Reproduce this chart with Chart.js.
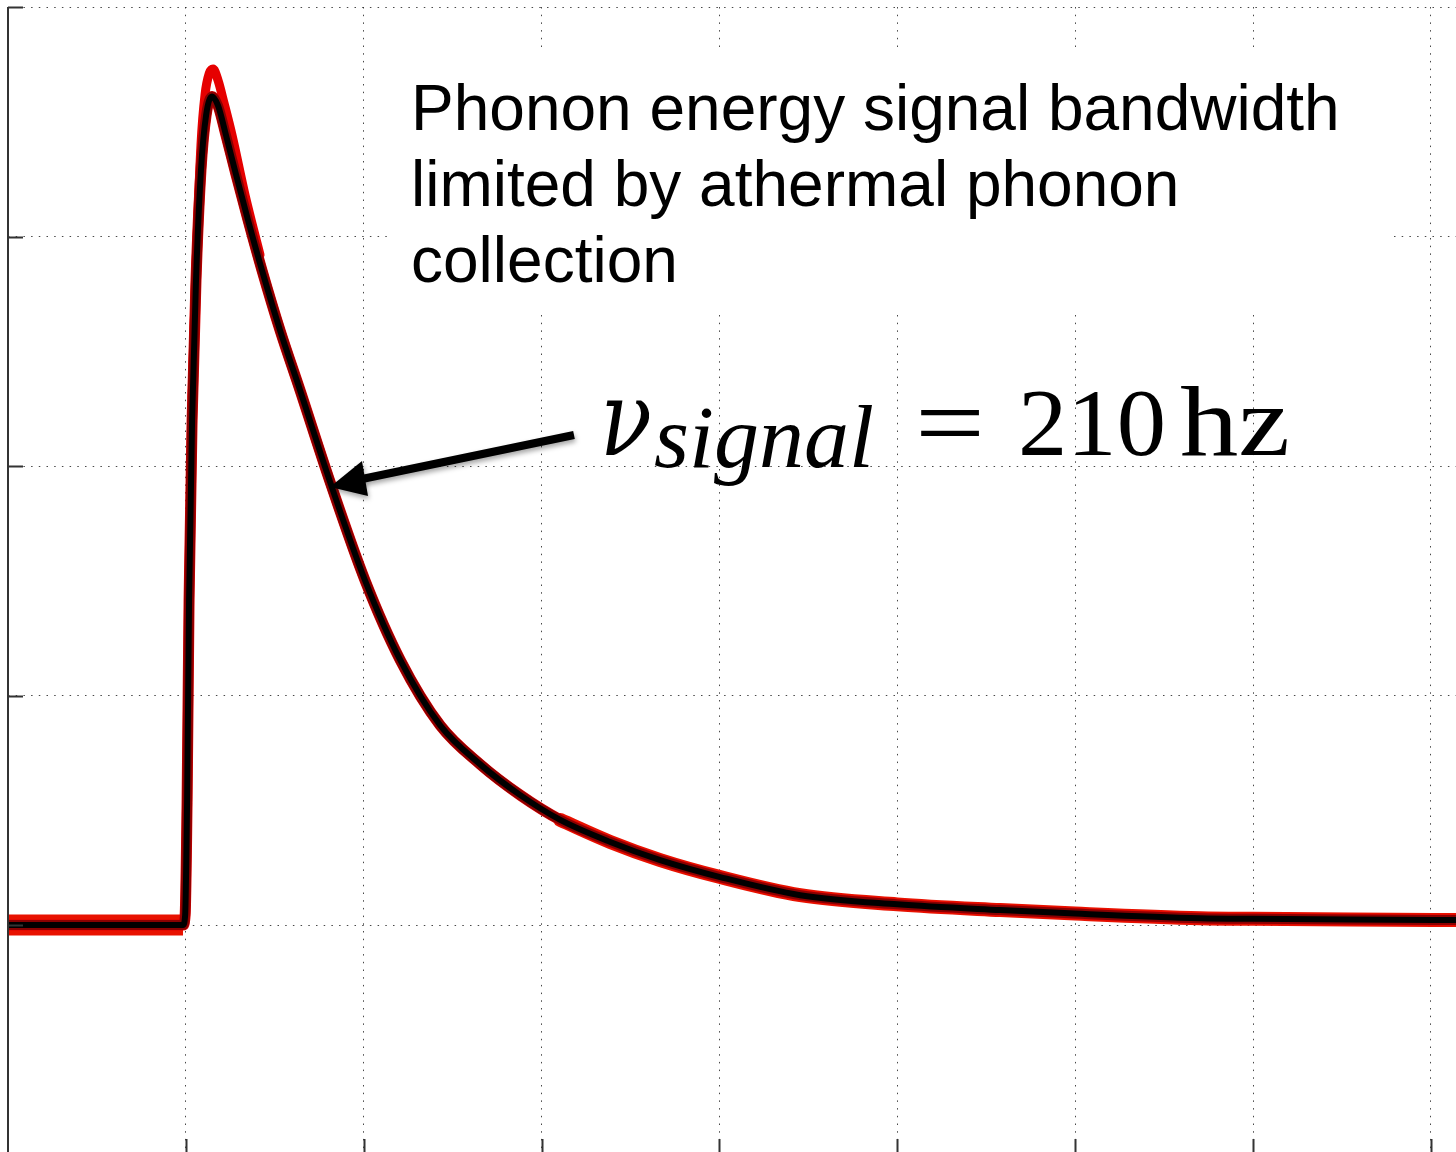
<!DOCTYPE html>
<html>
<head>
<meta charset="utf-8">
<script src="https://cdn.jsdelivr.net/npm/chart.js@4.4.0/dist/chart.umd.min.js"></script>
<style>
    html, body { margin: 0; padding: 0; background: #fff; overflow: hidden; }
    #wrap { width: 1456px; height: 1152px; }
</style>
</head>
<body>
<div id="wrap"><canvas id="pulseChart" width="1456" height="1152"></canvas></div>
<script>
// Averaged phonon pulse (x in grid divisions, y in grid divisions)
const pulseTime = [0, 0.984, 0.996, 1.007, 1.018, 1.035, 1.057, 1.085, 1.114, 1.147, 1.181, 1.226,
    1.282, 1.350, 1.429, 1.530, 1.642, 1.811, 2.008, 2.205, 2.43, 2.655, 2.88, 3.105, 3.386, 3.667,
    4.004, 4.454, 5.0, 5.579, 6.0, 6.704, 7.0, 7.548, 8.141];
const pulseMean = [0, 0, 0.044, 0.545, 1.416, 2.20, 2.81, 3.29, 3.53, 3.61, 3.57, 3.44,
    3.27, 3.07, 2.85, 2.59, 2.33, 1.93, 1.50, 1.155, 0.87, 0.70, 0.566, 0.458, 0.362, 0.283,
    0.209, 0.13, 0.09, 0.065, 0.05, 0.03, 0.027, 0.024, 0.022];

// Individual traces overshoot a bit around the peak
const peakTime = [1.035, 1.052, 1.085, 1.108, 1.131, 1.153, 1.181, 1.215, 1.26, 1.333, 1.417];
const peakTrace = [2.30, 2.75, 3.40, 3.62, 3.71, 3.73, 3.68, 3.58, 3.44, 3.18, 2.92];

// Grid divisions
const gridTimes = [0, 1, 2, 3, 4, 5, 6, 7, 8];
const gridLevels = [0, 1, 2, 3, 4];

// Annotation text
const noteLines = ['Phonon energy signal bandwidth', 'limited by athermal phonon', 'collection'];
const rateSymbol = 'ν';
const rateSubscript = 'signal';
const rateEquals = '=';
const rateNumber = '210';
const rateUnit = 'hz';

const toPoints = (xs, ys) => xs.map((x, i) => ({ x: x, y: ys[i] }));
const meanPoints = toPoints(pulseTime, pulseMean);
const basePoints = meanPoints.filter(p => p.x <= 0.984);
const tailPoints = meanPoints.filter(p => p.x >= 3.105);

// draw a piece of text squeezed/stretched to a given width
function drawFitted(ctx, text, font, x, y, width) {
    ctx.save();
    ctx.font = font;
    const w = ctx.measureText(text).width;
    ctx.translate(x, y);
    ctx.scale(width / w, 1);
    ctx.fillText(text, 0, 0);
    ctx.restore();
}

const annotations = {
    id: 'annotations',
    beforeDatasetsDraw(chart) {
        // white box behind the note hides the grid
        const ctx = chart.ctx;
        ctx.save();
        ctx.fillStyle = '#fff';
        ctx.fillRect(390, 53, 1000, 256);
        ctx.restore();
    },
    afterDraw(chart) {
        const ctx = chart.ctx;
        const xs = chart.scales.x, ys = chart.scales.y;
        const area = chart.chartArea;
        ctx.save();

        // left axis and inward ticks
        ctx.strokeStyle = '#333';
        ctx.lineWidth = 2;
        ctx.beginPath();
        ctx.moveTo(area.left, area.top);
        ctx.lineTo(area.left, area.bottom);
        gridLevels.forEach(v => {
            const py = Math.round(ys.getPixelForValue(v)) + 0.5;
            ctx.moveTo(area.left, py);
            ctx.lineTo(area.left + 15, py);
        });
        gridTimes.slice(1).forEach(v => {
            const px = Math.round(xs.getPixelForValue(v)) + 0.5;
            ctx.moveTo(px, area.bottom);
            ctx.lineTo(px, area.bottom - 13);
        });
        ctx.stroke();

        // note
        ctx.fillStyle = '#000';
        ctx.font = '64px "Liberation Sans", Arial, sans-serif';
        ctx.textBaseline = 'alphabetic';
        noteLines.forEach((line, i) => ctx.fillText(line, 411, 130 + i * 76));

        // formula
        drawFitted(ctx, rateSymbol, 'italic 104px "DejaVu Serif", serif', 600, 455, 52);
        drawFitted(ctx, rateSubscript, 'italic 88px "Liberation Serif", serif', 654, 467, 220);
        drawFitted(ctx, rateEquals, '104px "Liberation Serif", serif', 915, 458, 70);
        drawFitted(ctx, rateNumber, '96px "Liberation Serif", serif', 1018, 455, 148);
        drawFitted(ctx, rateUnit, '100px "Liberation Serif", serif', 1180, 455, 110);

        // arrow pointing at the decay
        ctx.shadowColor = 'rgba(0,0,0,0.35)';
        ctx.shadowBlur = 5;
        ctx.shadowOffsetX = 1;
        ctx.shadowOffsetY = 3;
        ctx.strokeStyle = '#000';
        ctx.lineWidth = 8;
        ctx.lineCap = 'butt';
        ctx.beginPath();
        ctx.moveTo(574, 435);
        ctx.lineTo(362, 479);
        ctx.stroke();
        ctx.fillStyle = '#000';
        ctx.beginPath();
        ctx.moveTo(330, 487);
        ctx.lineTo(362, 461);
        ctx.lineTo(368, 496);
        ctx.closePath();
        ctx.fill();
        ctx.restore();
    }
};

const lineStyle = {
    showLine: true, pointRadius: 0, cubicInterpolationMode: 'monotone',
    borderJoinStyle: 'round', borderCapStyle: 'round', fill: false
};

new Chart(document.getElementById('pulseChart').getContext('2d'), {
    type: 'scatter',
    data: {
        datasets: [
            { ...lineStyle, label: 'baseline traces', data: basePoints, borderColor: '#e81200', borderWidth: 21, borderCapStyle: 'butt', order: 6 },
            { ...lineStyle, label: 'tail traces', data: tailPoints, borderColor: '#e81200', borderWidth: 14, order: 6 },
            { ...lineStyle, label: 'traces', data: meanPoints, borderColor: '#e00000', borderWidth: 11, order: 5 },
            { ...lineStyle, label: 'peak traces', data: toPoints(peakTime, peakTrace), borderColor: '#e60000', borderWidth: 9, order: 4 },
            { ...lineStyle, label: 'traces core', data: meanPoints, borderColor: '#8a0000', borderWidth: 10, order: 3 },
            { ...lineStyle, label: 'mean pulse', data: meanPoints, borderColor: '#000', borderWidth: 6, order: 1 }
        ]
    },
    options: {
        responsive: false,
        animation: false,
        layout: { padding: { left: 8, top: 7, right: 0, bottom: 0 } },
        plugins: { legend: { display: false }, tooltip: { enabled: false } },
        scales: {
            x: {
                type: 'linear',
                min: 0,
                max: 8.141,
                afterBuildTicks: s => { s.ticks = gridTimes.map(v => ({ value: v })); },
                afterFit: s => { s.height = 0; },
                ticks: { display: false },
                grid: { color: 'rgba(40,40,40,0.85)', lineWidth: 1, drawTicks: false },
                border: { display: false, dash: [1.5, 6.2] }
            },
            y: {
                min: -0.989,
                max: 4,
                afterBuildTicks: s => { s.ticks = gridLevels.map(v => ({ value: v })); },
                afterFit: s => { s.width = 0; },
                ticks: { display: false },
                grid: { color: 'rgba(40,40,40,0.85)', lineWidth: 1, drawTicks: false },
                border: { display: false, dash: [1.5, 6.2] }
            }
        }
    },
    plugins: [annotations]
});
</script>
</body>
</html>
